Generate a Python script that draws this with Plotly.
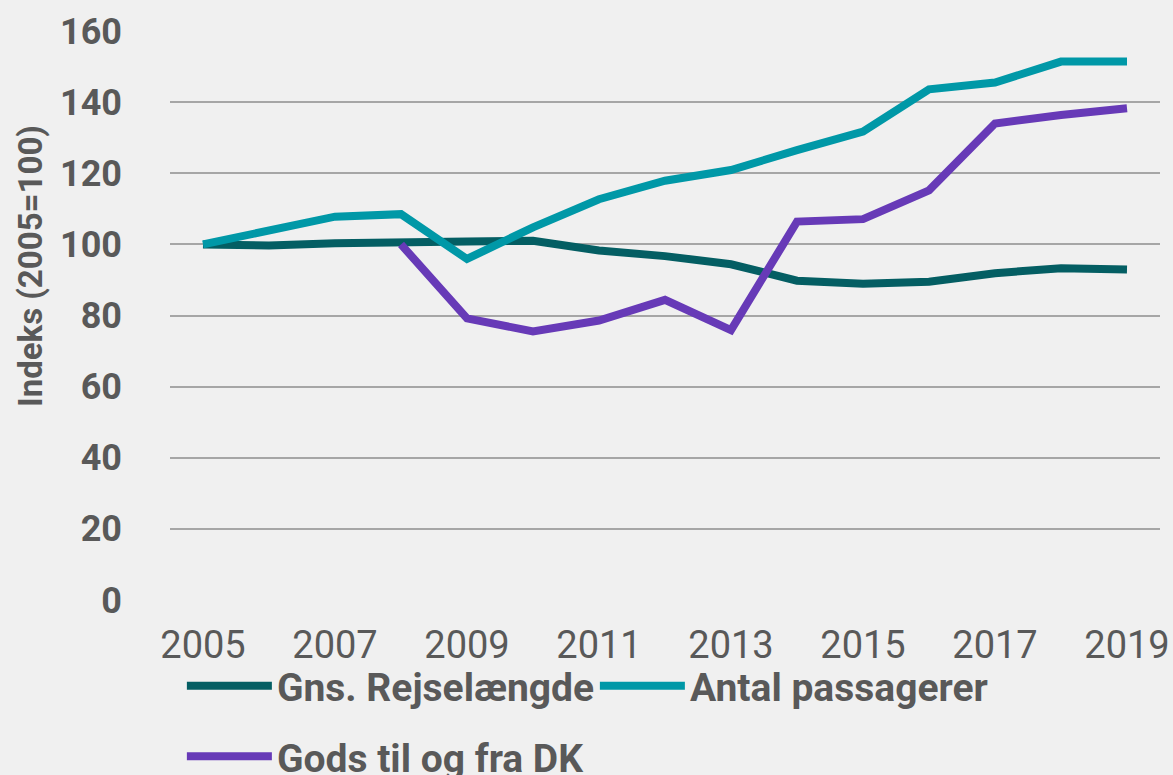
import plotly.graph_objects as go

years = list(range(2005, 2020))
rejselaengde = [100, 99.7, 100.3, 100.3, 100.8, 101.0, 98.3, 96.7, 94.4, 89.8, 88.9, 89.5, 91.9, 93.3, 92.9]
passagerer = [100, 103.8, 107.8, 108.5, 95.9, 104.8, 112.7, 117.9, 120.9, 126.5, 131.7, 143.6, 145.5, 151.4, 151.4]
gods_years = list(range(2008, 2020))
gods = [100, 79.2, 75.5, 78.6, 84.4, 75.9, 106.4, 107.1, 115.2, 134.0, 136.4, 138.3]

names = ["Gns. Rejselængde", "Antal passagerer", "Gods til og fra DK"]
colors = ["#045E63", "#0098A7", "#673AB7"]
y_ticks = [0, 20, 40, 60, 80, 100, 120, 140, 160]
x_ticks = [2005, 2007, 2009, 2011, 2013, 2015, 2017, 2019]

FONT = "Roboto"
GREY = "#595959"

fig = go.Figure()
fig.add_trace(go.Scatter(x=years, y=rejselaengde, name=names[0], mode="lines",
                         line=dict(color=colors[0], width=8), legend="legend"))
fig.add_trace(go.Scatter(x=years, y=passagerer, name=names[1], mode="lines",
                         line=dict(color=colors[1], width=8), legend="legend"))
fig.add_trace(go.Scatter(x=gods_years, y=gods, name=names[2], mode="lines",
                         line=dict(color=colors[2], width=8), legend="legend2"))

legend_common = dict(
    orientation="h",
    font=dict(family=FONT, size=39, color=GREY, weight="bold"),
    bgcolor="rgba(0,0,0,0)",
    itemwidth=85,
    xanchor="left",
    yanchor="middle",
    traceorder="normal",
)

fig.update_layout(
    width=1173, height=775,
    paper_bgcolor="#F0F0F0", plot_bgcolor="#F0F0F0",
    margin=dict(l=170, r=13, t=31, b=175, autoexpand=False),
    font=dict(family=FONT, color=GREY),
    showlegend=True,
    legend=dict(**legend_common, x=0.012, y=-0.151, entrywidth=313, entrywidthmode="pixels"),
    legend2=dict(**legend_common, x=0.012, y=-0.275),
    xaxis=dict(
        range=[2004.5, 2019.5],
        tickvals=x_ticks,
        ticktext=[str(v) for v in x_ticks],
        showgrid=False, zeroline=False, showline=False,
        tickfont=dict(family=FONT, size=38, color=GREY),
        ticklabelstandoff=19,
    ),
    yaxis=dict(
        range=[0, 160],
        tickvals=y_ticks,
        showgrid=True, gridcolor="#A6A6A6", gridwidth=2,
        zeroline=False, showline=False,
        tickfont=dict(family=FONT, size=36, color=GREY, weight="bold"),
        ticklabelstandoff=47,
    ),
    annotations=[dict(
        text="Indeks (2005=100)", textangle=-90,
        xref="paper", yref="paper", x=(30 - 170) / 990, y=(600 - 266) / 569,
        xanchor="center", yanchor="middle", showarrow=False,
        font=dict(family=FONT, size=33, color=GREY, weight="bold"),
    )],
)

fig.write_html(
    "out.html",
    config={"displayModeBar": False},
    post_script="document.body.style.margin='0';document.body.style.background='#F0F0F0';",
)
